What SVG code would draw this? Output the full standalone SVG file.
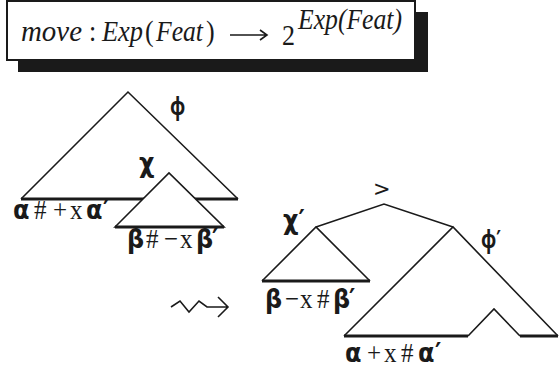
<svg xmlns="http://www.w3.org/2000/svg" width="560" height="369" viewBox="0 0 560 369">
<style>
.t{font-family:"Liberation Serif",serif;font-size:26px;fill:#1a1a1a}
.i{font-style:italic}
.g{font-family:"DejaVu Sans",sans-serif;font-weight:bold;font-size:24px;fill:#1a1a1a}
.p{font-family:"Noto Sans",sans-serif;font-weight:bold;font-size:25px;fill:#1a1a1a}
.s{font-family:"Liberation Serif",serif;font-size:25px;fill:#1a1a1a}
.ln{fill:none;stroke:#1a1a1a;stroke-width:1.6;stroke-linejoin:miter}
.base{fill:none;stroke:#1a1a1a;stroke-width:3}
.tri{fill:#fff;stroke:#1a1a1a;stroke-width:1.6}
</style>
<g id="header">
<rect x="18" y="12" width="410" height="60" fill="#1a1a1a"/>
<rect x="7" y="1" width="408" height="59" fill="#fff" stroke="#1a1a1a" stroke-width="2"/>
<g transform="translate(0,41) scale(1,1.15)">
<text class="t i" x="21" y="0" textLength="61" lengthAdjust="spacingAndGlyphs">move</text>
<text class="t" x="89" y="0">:</text>
<text class="t i" x="102" y="0" textLength="41" lengthAdjust="spacingAndGlyphs">Exp</text>
<text class="t" x="145" y="0">(</text>
<text class="t i" x="156" y="0" textLength="47" lengthAdjust="spacingAndGlyphs">Feat</text>
<text class="t" x="206" y="0">)</text>
</g>
<path d="M230 35 H266 M260 30 L267 35 L260 40" class="ln" stroke-width="1.3"/>
<g transform="translate(0,45) scale(1,1.15)"><text class="t" x="282" y="0">2</text></g>
<g transform="translate(0,29) scale(1,1.15)"><text class="t i" x="298" y="0" font-size="24" textLength="104" lengthAdjust="spacingAndGlyphs">Exp(Feat)</text></g>
</g>
<g id="tree-phi">
<path d="M21 199 L128 92 L238 199" class="ln"/>
<path d="M21 199 H238" class="base"/>
<g transform="translate(170,115) scale(0.75,1)"><text class="p" x="0" y="0">φ</text></g>
</g>
<g id="tree-chi">
<path d="M115 227 L169 173 L224 227 Z" class="tri"/>
<path d="M115 227 H224" class="base"/>
<g transform="translate(139,172) scale(1,1.1)"><text class="g" x="0" y="0">χ</text></g>
</g>
<g id="label-alpha" transform="translate(0,219) scale(1,1.1)">
<text y="0"><tspan class="g" x="13">α</tspan><tspan class="s" x="34">#</tspan><tspan class="s" x="53">+</tspan><tspan class="s" x="70">x</tspan><tspan class="g" x="86">α</tspan><tspan class="g" x="103">′</tspan></text>
</g>
<g id="label-beta" transform="translate(0,248) scale(1,1.1)">
<text y="0"><tspan class="g" x="127">β</tspan><tspan class="s" x="146">#</tspan><tspan class="s" x="164">−</tspan><tspan class="s" x="180">x</tspan><tspan class="g" x="196">β</tspan><tspan class="g" x="212">′</tspan></text>
</g>
<g id="leadsto">
<path d="M171 307 L180 301 L189 312 L199 301 L207 307 H228 M218 297 L228 307 L218 317" class="ln"/>
</g>
<g id="connectors">
<path d="M316 227 L384 204 L453 227" class="ln"/>
</g>
<g id="node-gt"><text x="373" y="196" font-family="DejaVu Sans,sans-serif" font-size="21" fill="#1a1a1a">&gt;</text></g>
<g id="tree-chi2">
<path d="M262 281 L316 227 L370 281" class="ln"/>
<path d="M262 281 H370" class="base"/>
<g transform="translate(283,229) scale(1,1.1)"><text class="g" x="0" y="0">χ′</text></g>
<g transform="translate(0,308) scale(1,1.1)">
<text y="0"><tspan class="g" x="265">β</tspan><tspan class="s" x="285">−</tspan><tspan class="s" x="300">x</tspan><tspan class="s" x="317">#</tspan><tspan class="g" x="333">β</tspan><tspan class="g" x="349">′</tspan></text>
</g>
</g>
<g id="tree-phi2">
<path d="M344 336 L453 227 L558 336" class="ln"/>
<path d="M344 336 H468 M520 336 H558" class="base" stroke-width="2.4"/>
<path d="M468 336 L494 309 L520 336" class="ln"/>
<g transform="translate(481,248) scale(0.75,1)"><text class="p" x="0" y="0">φ<tspan font-family="DejaVu Sans,sans-serif" font-size="24">′</tspan></text></g>
<g transform="translate(0,362) scale(1,1.1)">
<text y="0"><tspan class="g" x="345">α</tspan><tspan class="s" x="367">+</tspan><tspan class="s" x="384">x</tspan><tspan class="s" x="401">#</tspan><tspan class="g" x="418">α</tspan><tspan class="g" x="435">′</tspan></text>
</g>
</g>
</svg>
